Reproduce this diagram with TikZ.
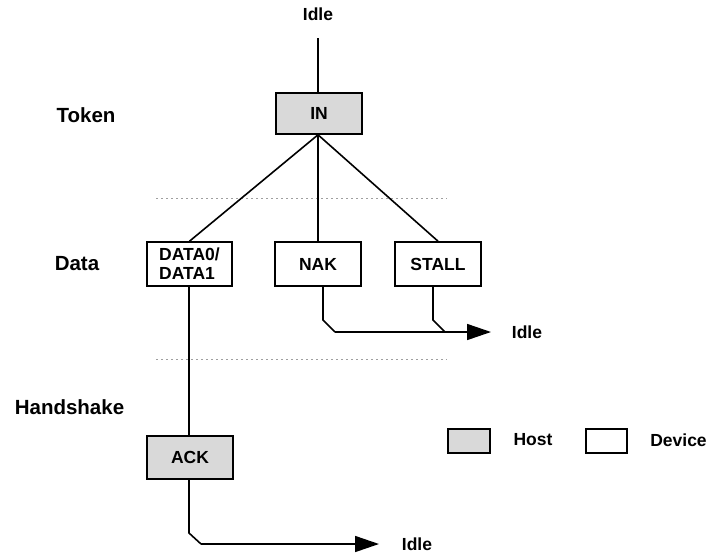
\documentclass[tikz,border=0pt]{standalone}
\usepackage{fontspec}
\setmainfont{Liberation Sans}
\usetikzlibrary{arrows.meta}
\definecolor{hostgray}{HTML}{D9D9D9}
\tikzset{
  box/.style={draw=black, line width=1.6pt, minimum width=86pt, minimum height=44pt, inner sep=0pt,
    font=\fontsize{17.5}{19}\selectfont\bfseries, align=center},
  hostbox/.style={box, fill=hostgray},
  devbox/.style={box, fill=white},
  lbl/.style={font=\fontsize{20.5}{23}\selectfont\bfseries},
  txt/.style={font=\fontsize{17.5}{19}\selectfont\bfseries},
  conn/.style={line width=1.6pt},
  sep/.style={draw=gray!75, line width=1pt, dash pattern=on 2pt off 3pt},
  arr/.style={conn, -{Triangle[length=24pt, width=16pt]}}
}
\begin{document}
\begin{tikzpicture}[x=1pt, y=-1pt]
\useasboundingbox (0,0) rectangle (708,554);
% labels
\node[lbl] (tok) at (86,115.5) {Token};
\node[lbl] (dat) at (77,264) {Data};
\node[lbl] (hs) at (69.5,407) {Handshake};
% separators
\coordinate (s1a) at (156,198); \coordinate (s1b) at (447,198);
\coordinate (s2a) at (156,359); \coordinate (s2b) at (447,359);
\draw[sep] (s1a) -- (s1b);
\draw[sep] (s2a) -- (s2b);
% nodes
\node[txt] (idle0) at (318,14) {Idle};
\node[hostbox, minimum height=41pt] (in) at (319,113.5) {IN};
\node[devbox, minimum width=85pt, align=left] (d0) at (189.5,264) {DATA0/\\DATA1};
\node[devbox] (nak) at (318,264) {NAK};
\node[devbox] (stall) at (438,264) {STALL};
\node[hostbox, minimum height=43pt] (ack) at (190,457.5) {ACK};
\node[txt] (idle1) at (527,332) {Idle};
\node[txt] (idle2) at (417,544) {Idle};
% legend
\node[hostbox, minimum width=42pt, minimum height=24pt] (lh) at (469,441) {};
\node[txt] (lht) at (533,440) {Host};
\node[devbox, minimum width=41pt, minimum height=24pt] (ld) at (606.5,441) {};
\node[txt] (ldt) at (678.5,440) {Device};
% connectors
\coordinate (top) at (318,38);
\draw[conn] (top) -- (in.north -| top);
\draw[conn] (in.south -| top) -- (d0.north);
\draw[conn] (in.south -| top) -- (nak.north);
\draw[conn] (in.south -| top) -- (stall.north);
% NAK / STALL to Idle
\coordinate (nb) at (323,320);
\coordinate (nj) at (335,332);
\coordinate (sb) at (433,320);
\coordinate (sj) at (445,332);
\coordinate (e1) at (491,332);
\draw[conn] (nak.south -| nb) -- (nb) -- (nj);
\draw[conn] (stall.south -| sb) -- (sb) -- (sj);
\draw[arr] (nj) -- (e1);
% DATA0 to ACK
\draw[conn] (d0.south -| 189,0) -- (ack.north -| 189,0);
% ACK to Idle
\coordinate (ab) at (189,533);
\coordinate (aj) at (201,544);
\coordinate (e2) at (379,544);
\draw[conn] (ack.south -| ab) -- (ab) -- (aj);
\draw[arr] (aj) -- (e2);
\end{tikzpicture}
\end{document}
